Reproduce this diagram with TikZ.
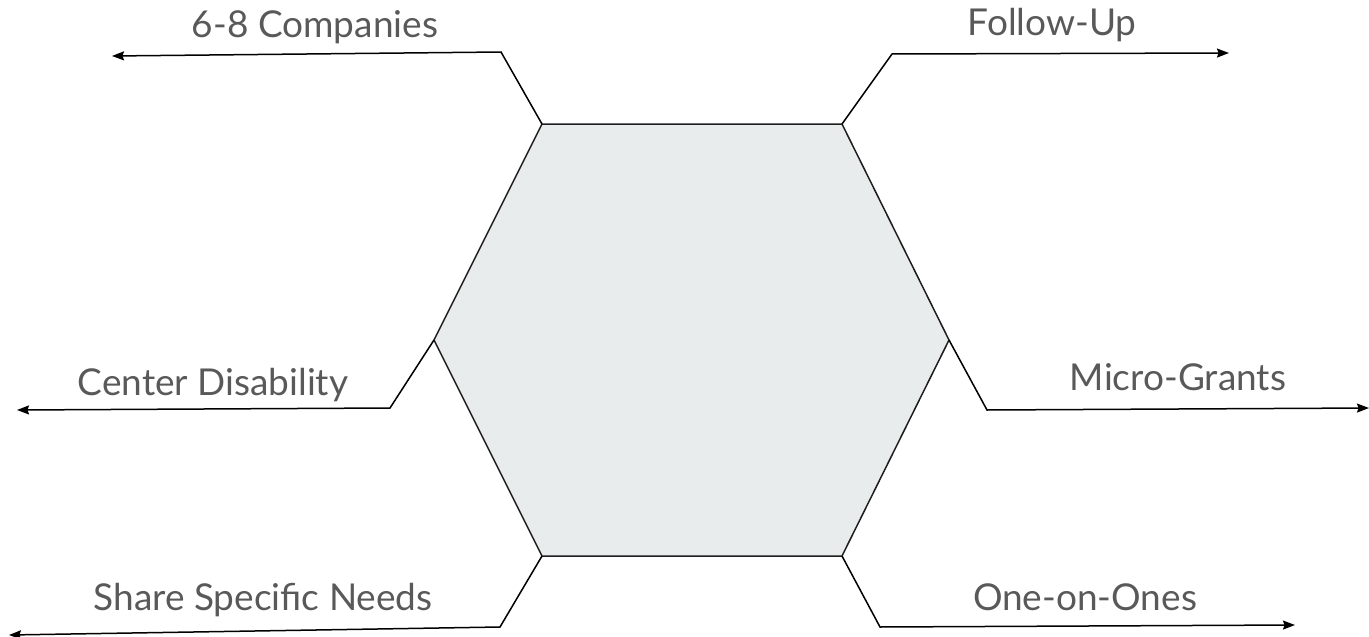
\documentclass[tikz,border=0pt]{standalone}
\usepackage{fontspec}
\setmainfont{Lato}
\usetikzlibrary{arrows.meta}
\definecolor{hexfill}{HTML}{E8ECEC}
\definecolor{txtgray}{HTML}{595959}
\definecolor{edgecol}{HTML}{1E1E1E}
\begin{document}
\begin{tikzpicture}[x=1pt,y=-1pt,
  lbl/.style={text=txtgray,font=\fontsize{37}{44}\selectfont,inner sep=0pt,anchor=base},
  conn/.style={draw=black,line width=1.5pt,-{Stealth[length=12pt,width=9pt,inset=1.5pt]}},
  hexstyle/.style={fill=hexfill,draw=edgecol,line width=1.5pt,line join=miter}]
\useasboundingbox (0,0) rectangle (1369,637);
% hexagon vertices
\coordinate (htl) at (542,124);
\coordinate (htr) at (842,124);
\coordinate (hr) at (949,340);
\coordinate (hbr) at (842,556);
\coordinate (hbl) at (542,556);
\coordinate (hl) at (434,340);
\path[hexstyle] (htl) -- (htr) -- (hr) -- (hbr) -- (hbl) -- (hl) -- cycle;
% bends and ends
\coordinate (k1) at (501,52);  \coordinate (e1) at (112,56);
\coordinate (k2) at (892,54);  \coordinate (e2) at (1229,53);
\coordinate (k3) at (390,408); \coordinate (e3) at (17,410);
\coordinate (k4) at (987,410); \coordinate (e4) at (1369,408);
\coordinate (k5) at (500,627); \coordinate (e5) at (9,635);
\coordinate (k6) at (880,627); \coordinate (e6) at (1295,625);
\draw[conn] (htl) -- (k1) -- (e1);
\draw[conn] (htr) -- (k2) -- (e2);
\draw[conn] (hl) -- (k3) -- (e3);
\draw[conn] (hr) -- (k4) -- (e4);
\draw[conn] (hbl) -- (k5) -- (e5);
\draw[conn] (hbr) -- (k6) -- (e6);
% labels
\node[lbl] (t1) at (315,37) {6-8 Companies};
\node[lbl] (t2) at (1052,35) {Follow-Up};
\node[lbl] (t3) at (213,395) {Center Disability};
\node[lbl] (t4) at (1178,390) {Micro-Grants};
\node[lbl] (t5) at (263,610) {Share Specific Needs};
\node[lbl] (t6) at (1085,610) {One-on-Ones};
\end{tikzpicture}
\end{document}
